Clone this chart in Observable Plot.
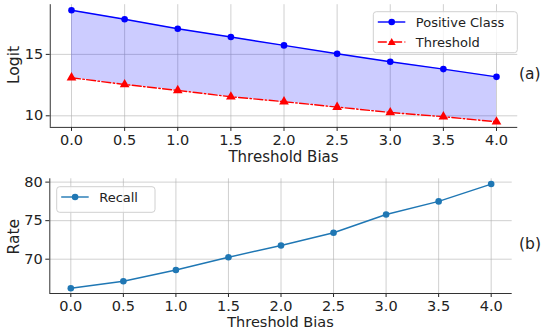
<!DOCTYPE html>
<html>
<head>
<meta charset="utf-8">
<script src="https://cdn.jsdelivr.net/npm/d3@7"></script>
<script src="https://cdn.jsdelivr.net/npm/@observablehq/plot@0.6"></script>
<style>
  body { margin: 0; background: white; }
  #chart { width: 541px; height: 330px; position: relative; }
  #chart svg { display: block; }
</style>
</head>
<body>
<div id="chart"></div>
<script>
// ---- data ----
const bias = [0, 0.5, 1.0, 1.5, 2.0, 2.5, 3.0, 3.5, 4.0];
const positiveClass = [18.59, 17.86, 17.09, 16.41, 15.73, 15.05, 14.40, 13.80, 13.17];
const threshold = [13.10, 12.55, 12.07, 11.55, 11.15, 10.71, 10.27, 9.93, 9.51];
const recall = [66.23, 67.14, 68.60, 70.25, 71.78, 73.43, 75.80, 77.50, 79.75];
const xTicks = [0, 0.5, 1.0, 1.5, 2.0, 2.5, 3.0, 3.5, 4.0];
const topYTicks = [10, 15];
const bottomYTicks = [70, 75, 80];
const xLabel = "Threshold Bias";
const topYLabel = "Logit";
const bottomYLabel = "Rate";
const topLegend = ["Positive Class", "Threshold"];
const bottomLegend = ["Recall"];
const panelLabels = ["(a)", "(b)"];

const topData = bias.map((b, i) => ({b, pos: positiveClass[i], thr: threshold[i]}));
const botData = bias.map((b, i) => ({b, r: recall[i]}));

const FONT = "DejaVu Sans, sans-serif";
const TEXT = "#222";
const gridStyle = {stroke: "#b0b0b0", strokeOpacity: 0.6, strokeWidth: 1};
const tickFmt = d => d.toFixed(1);
const DASHDOT = "9,2.4,1.5,2.4";

const topDomain = [9.056, 19.044];
const botDomain = [65.55, 80.43];
const xDomain = [-0.2, 4.2];

const topChart = Plot.plot({
  width: 541, height: 165,
  marginLeft: 49.75, marginRight: 23.75, marginTop: 4.2, marginBottom: 38.1,
  style: {fontFamily: FONT, fontSize: "14.5px", color: TEXT, background: "white", overflow: "visible"},
  x: {domain: xDomain},
  y: {domain: topDomain},
  marks: [
    Plot.gridX(xTicks, gridStyle),
    Plot.gridY(topYTicks, gridStyle),
    Plot.areaY(topData, {x: "b", y1: "thr", y2: "pos", fill: "blue", fillOpacity: 0.2}),
    Plot.line(topData, {x: "b", y: "thr", stroke: "red", strokeWidth: 1.4, strokeDasharray: DASHDOT}),
    Plot.dot(topData, {x: "b", y: "thr", symbol: "triangle", fill: "red", r: 3.6}),
    Plot.line(topData, {x: "b", y: "pos", stroke: "blue", strokeWidth: 1.4}),
    Plot.dot(topData, {x: "b", y: "pos", fill: "blue", r: 3.3}),
    Plot.axisX(xTicks, {tickFormat: tickFmt, tickSize: 4, tickPadding: 3, fontSize: 14.5, label: null}),
    Plot.axisY(topYTicks, {tickSize: 4, tickPadding: 3, fontSize: 14.5, label: null}),
    Plot.ruleX([xDomain[0]], {stroke: "#333", strokeWidth: 1}),
    Plot.ruleY([topDomain[0]], {stroke: "#333", strokeWidth: 1})
  ]
});

const bottomChart = Plot.plot({
  width: 541, height: 165,
  marginLeft: 49.3, marginRight: 29.3, marginTop: 13.3, marginBottom: 37,
  style: {fontFamily: FONT, fontSize: "14.5px", color: TEXT, background: "white", overflow: "visible"},
  x: {domain: xDomain},
  y: {domain: botDomain},
  marks: [
    Plot.gridX(xTicks, gridStyle),
    Plot.gridY(bottomYTicks, gridStyle),
    Plot.line(botData, {x: "b", y: "r", stroke: "#1f77b4", strokeWidth: 1.4}),
    Plot.dot(botData, {x: "b", y: "r", fill: "#1f77b4", r: 3.3}),
    Plot.axisX(xTicks, {tickFormat: tickFmt, tickSize: 4, tickPadding: 3, fontSize: 14.5, label: null}),
    Plot.axisY(bottomYTicks, {tickSize: 4, tickPadding: 3, fontSize: 14.5, label: null}),
    Plot.ruleX([xDomain[0]], {stroke: "#333", strokeWidth: 1}),
    Plot.ruleY([botDomain[0]], {stroke: "#333", strokeWidth: 1})
  ]
});

const chart = document.getElementById("chart");
chart.appendChild(topChart);
chart.appendChild(bottomChart);

// ---- axis titles ----
function titles(svg, xCenter, xBaseline, xSize, yCenter, yText) {
  const s = d3.select(svg);
  s.append("text").attr("x", xCenter).attr("y", xBaseline)
    .attr("text-anchor", "middle").attr("font-family", FONT).attr("font-size", xSize)
    .attr("fill", TEXT).text(xLabel);
  s.append("text").attr("transform", `translate(14,${yCenter}) rotate(-90)`)
    .attr("text-anchor", "middle").attr("dy", "0.35em").attr("font-family", FONT)
    .attr("font-size", 15.5).attr("fill", TEXT).text(yText);
}
titles(topChart, 283.5, 162, 15, 65, topYLabel);
titles(bottomChart, 280.5, 161.5, 14.5, 236.7 - 165, bottomYLabel);

// ---- legends & panel labels ----
function legend(svg, x, y, w, h, items) {
  const g = d3.select(svg).append("g").attr("font-family", FONT).attr("font-size", 13)
    .attr("text-anchor", "start");
  g.append("rect").attr("x", x).attr("y", y).attr("width", w).attr("height", h)
    .attr("rx", 3).attr("fill", "white").attr("fill-opacity", 0.8)
    .attr("stroke", "#d0d0d0").attr("stroke-width", 1);
  items.forEach((it, i) => {
    const cy = y + 10.3 + i * 20;
    g.append("line").attr("x1", x + 4.5).attr("x2", x + 32).attr("y1", cy).attr("y2", cy)
      .attr("stroke", it.color).attr("stroke-width", 1.4)
      .attr("stroke-dasharray", it.dash || null);
    if (it.symbol === "triangle") {
      const s = 4;
      g.append("path").attr("d", `M${x + 18.4},${cy - s}L${x + 18.4 + s},${cy + s * 0.75}L${x + 18.4 - s},${cy + s * 0.75}Z`).attr("fill", it.color);
    } else {
      g.append("circle").attr("cx", x + 18.4).attr("cy", cy).attr("r", 3.3).attr("fill", it.color);
    }
    g.append("text").attr("x", x + 42.5).attr("y", cy).attr("dy", "0.35em")
      .attr("text-anchor", "start").attr("fill", TEXT).text(it.label);
  });
}
legend(topChart, 373.3, 11.7, 144, 41, [
  {label: topLegend[0], color: "blue"},
  {label: topLegend[1], color: "red", dash: DASHDOT, symbol: "triangle"}
]);
legend(bottomChart, 56.7, 21.7, 98.3, 25.6, [
  {label: bottomLegend[0], color: "#1f77b4"}
]);

d3.select(topChart).append("text").attr("x", 519).attr("y", 73.3).attr("dy", "0.35em")
  .attr("text-anchor", "start").attr("font-family", FONT).attr("font-size", 15.5)
  .attr("fill", TEXT).text(panelLabels[0]);
d3.select(bottomChart).append("text").attr("x", 519).attr("y", 243.3 - 165).attr("dy", "0.35em")
  .attr("text-anchor", "start").attr("font-family", FONT).attr("font-size", 15.5)
  .attr("fill", TEXT).text(panelLabels[1]);
</script>
</body>
</html>
